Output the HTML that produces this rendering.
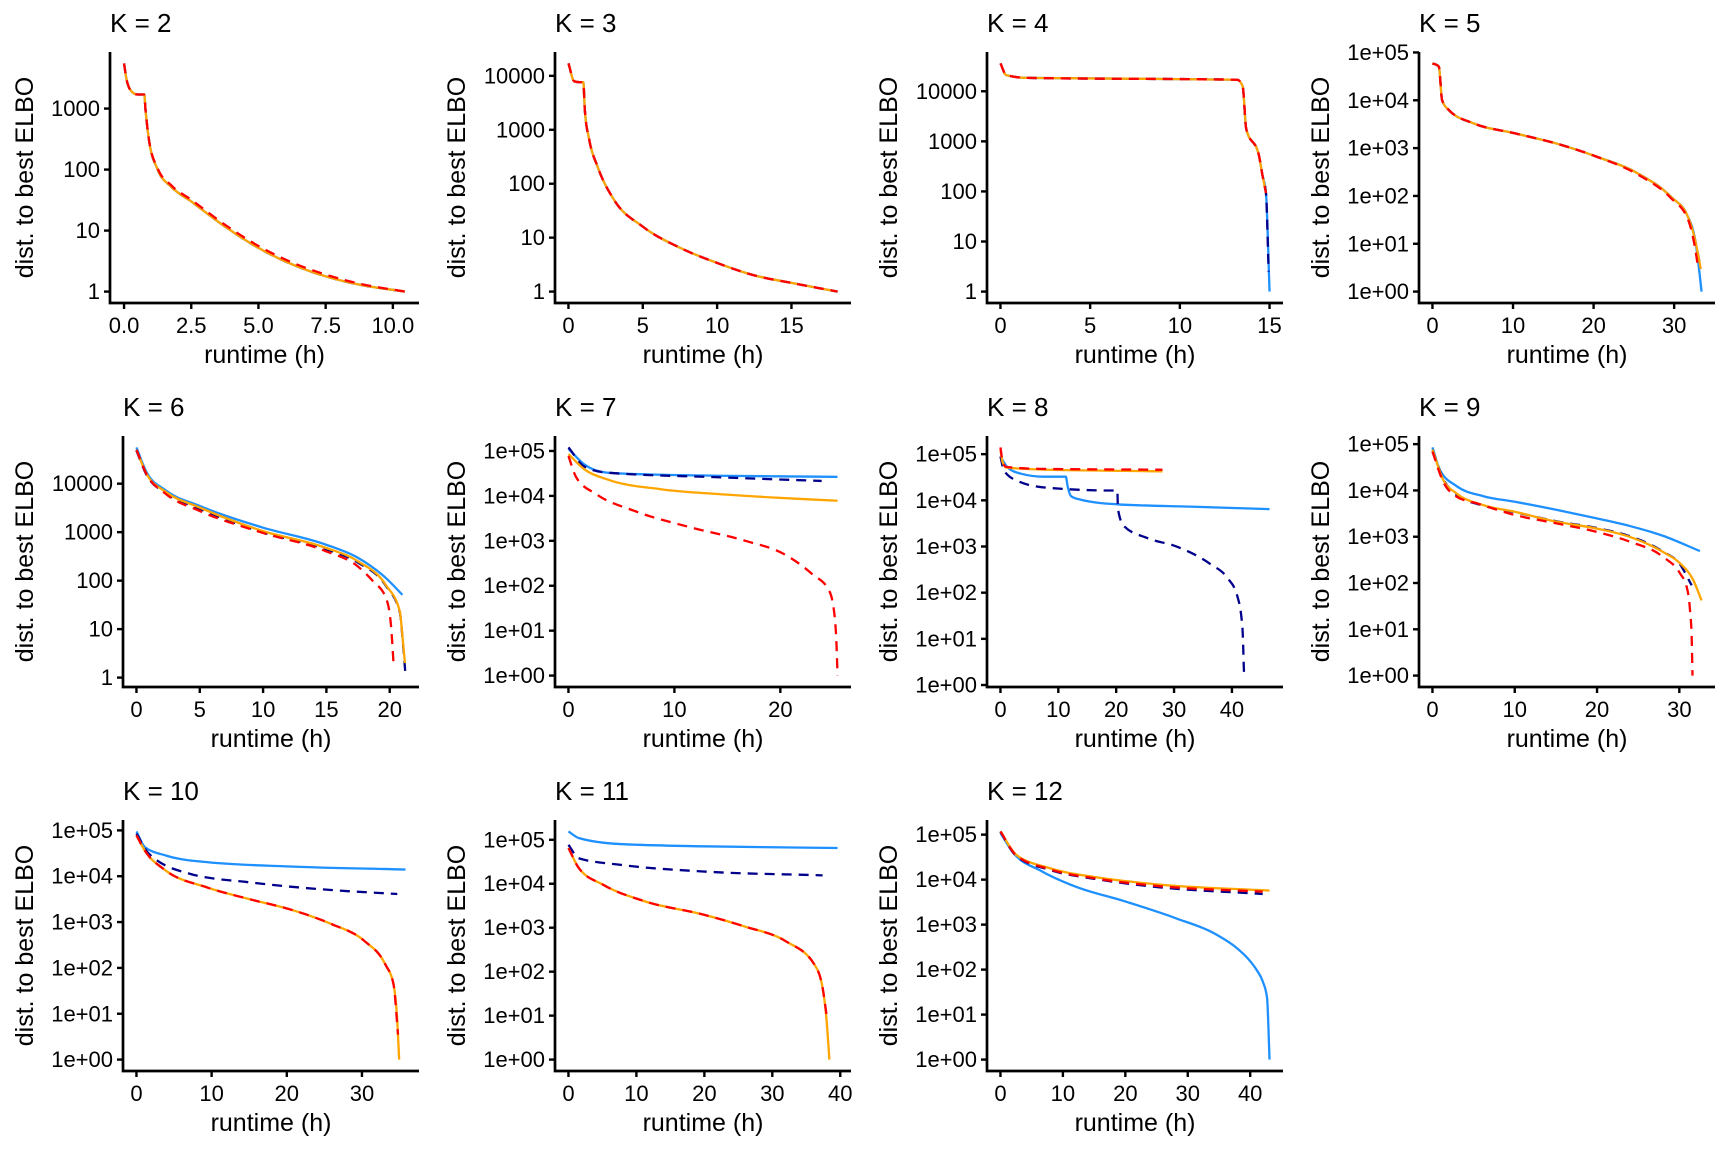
<!DOCTYPE html>
<html>
<head>
<meta charset="utf-8">
<style>
html,body{margin:0;padding:0;background:#fff;}
svg{display:block;}
text{font-family:"Liberation Sans",Arial,sans-serif;fill:#000;}
</style>
</head>
<body>
<svg id="fig" width="1728" height="1152" viewBox="0 0 1728 1152" xmlns="http://www.w3.org/2000/svg"></svg>
<script>
// ---------- data (runtime in hours, distance to best ELBO) ----------
const k2_t = [0,0.1,0.3,0.5,0.75,0.8,0.93,1.25,1.76,2.5,3.75,5,6.25,7.5,8.75,10.45];
const k2_blue = [5500,2900,1870,1700,1700,940,300,100,52,30,11.7,5.2,2.8,1.78,1.3,1.0];
const k2_navy = [5500,2900,1870,1700,1700,940,300,100,52,30,11.7,5.2,2.8,1.78,1.3,1.0];
const k2_orange = [5500,2900,1870,1700,1700,940,300,100,52,30,11.7,5.2,2.8,1.78,1.3,1.0];
const k2_red = [5500,2900,1870,1700,1700,940,300,105,55,32,12.5,5.6,3.0,1.9,1.35,1.0];

const k3_t = [0,0.39,0.84,1.0,1.1,1.4,1.95,3.07,5,7.5,10,12.5,15,18.1];
const k3_blue = [17000,7900,7600,7600,2350,650,210,50,16,6.5,3.4,2.0,1.45,1.0];
const k3_navy = [17000,7900,7600,7600,2350,650,210,50,16,6.5,3.4,2.0,1.45,1.0];
const k3_orange = [17000,7900,7600,7600,2350,650,210,50,16,6.5,3.4,2.0,1.45,1.0];
const k3_red = [17000,7900,7600,7600,2350,650,210,50,16,6.5,3.4,2.0,1.45,1.0];

const k4_t = [0,0.32,1.5,13.2,13.5,13.7,14.4,14.6,14.8];
const k4_v = [36000,21000,18500,17000,12600,1780,540,215,93];
const k4_navy_t = [0,0.32,1.5,13.2,13.5,13.7,14.4,14.6,14.8,14.95];
const k4_navy_v = [36000,21000,18500,17000,12600,1780,540,215,93,2.5];
const k4_blue_t = [0,0.32,1.5,13.2,13.5,13.7,14.4,14.6,14.8,15.0];
const k4_blue_v = [36000,21000,18500,17000,12600,1780,540,215,93,1];

const k5_t = [0,0.5,0.8,1.2,2.05,5.1,10.2,15.3,20.4,25.5,29.6,31.7,32.6,33.3];
const k5_orange = [59000,55000,50000,10000,6200,3300,2040,1260,660,295,96,37,12,3];
const k5_red_t = [0,0.5,0.8,1.2,2.05,5.1,10.2,15.3,20.4,25.5,29.6,31.7,32.5,33.0];
const k5_red = [59000,55000,50000,10000,6200,3300,2040,1260,660,280,90,33,10,3];
const k5_blue_t = [0,0.5,0.8,1.2,2.05,5.1,10.2,15.3,20.4,25.5,29.6,31.7,32.6,33.0,33.4];
const k5_blue = [59000,55000,50000,10000,6200,3300,2040,1260,660,295,96,37,12,4,1];

const k6_blue_t = [0,0.78,2.3,4.9,9.9,14.9,17.5,19.7,21.0];
const k6_blue = [56000,17600,7300,3550,1260,560,295,113,51];
const k6_orange_t = [0,0.78,2.3,4.9,9.9,14.9,17.5,19.7,20.8,21.0,21.2];
const k6_orange = [50000,16200,6800,3300,1070,480,250,81,23,7.4,2];
const k6_navy_t = [0,0.78,2.3,4.9,9.9,14.9,17.5,19.7,20.8,21.0,21.25];
const k6_navy = [48000,15500,6400,3100,1000,450,235,78,22,7,1.1];
const k6_red_t = [0,0.78,2.3,4.9,9.9,14.9,17.5,18.7,19.7,20.1,20.3];
const k6_red = [50000,16000,6200,2800,980,410,195,96,44,12,2];

const k7_blue_t = [0,1.5,3.6,8.8,25.4];
const k7_blue = [112000,50000,33000,29500,26500];
const k7_navy_t = [0,1.5,3.6,14.1,23.9];
const k7_navy = [120000,45000,33000,26000,21500];
const k7_orange_t = [0,1.5,3.6,8.8,14.1,19.3,25.4];
const k7_orange = [85000,39000,23500,14000,11000,9200,7800];
const k7_red_t = [0,0.73,2.6,6.2,11.5,16.7,20.4,23.0,24.6,25.1,25.3,25.4];
const k7_red = [77000,26000,11000,4650,2000,1000,500,182,78,23.5,5,1];

const k8_orange_t = [0,0.35,1,6.9,28];
const k8_orange = [126000,69000,51500,46500,42500];
const k8_red_t = [0,0.35,1,6.9,28];
const k8_red = [140000,72000,53000,48000,46000];
const k8_blue_t = [0,1.15,3.45,7.5,11.3,11.6,12.2,13.9,20.2,33.5,46.5];
const k8_blue = [89000,53000,38000,32500,32500,20500,12300,10300,8200,7250,6450];
const k8_navy_t = [0,0.6,2.9,8.1,19.6,20.2,20.3,21.3,25.4,30.5,36.3,39.2,40.9,41.8,42.1];
const k8_navy = [89000,44500,26500,18700,16300,16300,6600,2800,1520,990,415,210,87,18.4,1.6];

const k9_blue_t = [0,0.9,2.9,6.2,10,15.1,19.9,24,28,32.5];
const k9_blue = [85000,27700,12500,7500,5700,3800,2500,1700,1050,490];
const k9_orange_t = [0,1.3,2.9,6.2,10,15.1,19.9,24,28,30.1,31.7,32.7];
const k9_orange = [76000,17000,8700,4800,3460,2100,1510,990,470,265,115,42];
const k9_navy_t = [0,1.3,2.9,6.2,10,15.1,19.9,24,28,30.1,31.5];
const k9_navy = [76000,18000,8000,4700,3400,2150,1550,1020,480,250,89];
const k9_red_t = [0,1.3,2.9,5.5,10,15.1,19.9,24,28,30.1,30.9,31.3,31.5,31.6];
const k9_red = [69000,15500,7400,5200,2950,1940,1280,780,370,160,82,25.6,6.8,1];

const k10_blue_t = [0,1.1,3.9,9.4,20.4,35.8];
const k10_blue = [95000,43500,28300,20300,16300,14000];
const k10_navy_t = [0,1.65,7.2,14.9,25.9,34.7];
const k10_navy = [85000,31000,11200,7400,5000,4100];
const k10_orange_t = [0,1.1,3.9,9.4,14.9,20.4,25.9,30.3,33.1,34.2,34.7,34.95];
const k10_orange = [78000,36500,13300,5700,3200,1900,910,390,120,44,6.9,1];
const k10_red_t = [0,1.1,3.9,9.4,14.9,20.4,25.9,30.3,33.1,34.2,34.8];
const k10_red = [78000,36500,13300,5700,3200,1900,910,390,120,44,3.5];

const k11_blue_t = [0,1.5,7.6,19.8,39.6];
const k11_blue = [155000,110000,80000,71000,65000];
const k11_navy_t = [0,1.5,7.6,19.8,37.4];
const k11_navy = [77000,38000,27000,19000,15500];
const k11_orange_t = [0,1.5,5.1,11.2,19.8,25.9,32,36.2,37.4,38,38.4];
const k11_orange = [65000,23000,9500,4000,2000,1070,490,145,43,7.4,1];
const k11_red_t = [0,1.5,5.1,11.2,19.8,25.9,32,36.2,37.4,38];
const k11_red = [65000,23000,9500,4000,2000,1070,490,145,43,10];

const k12_orange_t = [0,2.5,7.9,15.9,25.3,43.1];
const k12_orange = [118000,36000,18000,11000,7800,5700];
const k12_red_t = [0,2.5,7.9,15.9,25.3,42];
const k12_red = [118000,35000,17000,10300,7200,5400];
const k12_navy_t = [0,2.5,7.9,15.9,25.3,42];
const k12_navy = [115000,34000,16500,10000,6800,4800];
const k12_blue_t = [0,1.9,6.6,11.9,19.9,28,34.6,37.5,40,41,42,42.7,43.1];
const k12_blue = [109000,42000,15400,7100,3300,1400,600,330,154,100,55,23.6,1];

// tick labels
const ticks_y_plain = [1,10,100,1000,10000];
const labels_y_plain = ["1","10","100","1000","10000"];
const ticks_y_sci = [1,10,100,1000,10000,100000];
const labels_y_sci = ["1e+00","1e+01","1e+02","1e+03","1e+04","1e+05"];
const ticks_x_k2 = [0,2.5,5,7.5,10];
const labels_x_k2 = ["0.0","2.5","5.0","7.5","10.0"];
const ticks_x_5 = [0,5,10,15];
const ticks_x_6 = [0,5,10,15,20];
const ticks_x_20 = [0,10,20];
const ticks_x_30 = [0,10,20,30];
const ticks_x_40 = [0,10,20,30,40];

// ---------- panel definitions ----------
const panels = [
  {k:2, series:[[k2_t,k2_blue],[k2_t,k2_navy],[k2_t,k2_orange],[k2_t,k2_red]], yt:[1,10,100,1000], yl:["1","10","100","1000"], xt:ticks_x_k2, xl:labels_x_k2},
  {k:3, series:[[k3_t,k3_blue],[k3_t,k3_navy],[k3_t,k3_orange],[k3_t,k3_red]], yt:ticks_y_plain, yl:labels_y_plain, xt:ticks_x_5},
  {k:4, series:[[k4_blue_t,k4_blue_v],[k4_navy_t,k4_navy_v],[k4_t,k4_v],[k4_t,k4_v]], yt:ticks_y_plain, yl:labels_y_plain, xt:ticks_x_5},
  {k:5, series:[[k5_blue_t,k5_blue],[k5_t,k5_orange],[k5_t,k5_orange],[k5_red_t,k5_red]], yt:ticks_y_sci, yl:labels_y_sci, xt:ticks_x_30},
  {k:6, series:[[k6_blue_t,k6_blue],[k6_navy_t,k6_navy],[k6_orange_t,k6_orange],[k6_red_t,k6_red]], yt:ticks_y_plain, yl:labels_y_plain, xt:ticks_x_6},
  {k:7, series:[[k7_blue_t,k7_blue],[k7_navy_t,k7_navy],[k7_orange_t,k7_orange],[k7_red_t,k7_red]], yt:ticks_y_sci, yl:labels_y_sci, xt:ticks_x_20},
  {k:8, series:[[k8_blue_t,k8_blue],[k8_navy_t,k8_navy],[k8_orange_t,k8_orange],[k8_red_t,k8_red]], yt:ticks_y_sci, yl:labels_y_sci, xt:ticks_x_40},
  {k:9, series:[[k9_blue_t,k9_blue],[k9_navy_t,k9_navy],[k9_orange_t,k9_orange],[k9_red_t,k9_red]], yt:ticks_y_sci, yl:labels_y_sci, xt:ticks_x_30},
  {k:10, series:[[k10_blue_t,k10_blue],[k10_navy_t,k10_navy],[k10_orange_t,k10_orange],[k10_red_t,k10_red]], yt:ticks_y_sci, yl:labels_y_sci, xt:ticks_x_30},
  {k:11, series:[[k11_blue_t,k11_blue],[k11_navy_t,k11_navy],[k11_orange_t,k11_orange],[k11_red_t,k11_red]], yt:ticks_y_sci, yl:labels_y_sci, xt:ticks_x_40},
  {k:12, series:[[k12_blue_t,k12_blue],[k12_navy_t,k12_navy],[k12_orange_t,k12_orange],[k12_red_t,k12_red]], yt:ticks_y_sci, yl:labels_y_sci, xt:ticks_x_40}
];
const seriesNames = ["blue","navy","orange","red"];
const seriesColors = ["#1E90FF","#00008B","#FFA500","#FF0000"];
const seriesDash = [null,"10,7",null,"10,7"];

const NS = "http://www.w3.org/2000/svg";
const svg = document.getElementById("fig");
function mk(tag, attrs, parent){
  const e = document.createElementNS(NS, tag);
  for (const a in attrs) e.setAttribute(a, attrs[a]);
  parent.appendChild(e);
  return e;
}
function monoPath(pts){
  const n = pts.length;
  if (n < 2) return "";
  const d = [], h = [];
  for (let i=0;i<n-1;i++){ h.push(pts[i+1][0]-pts[i][0]); d.push((pts[i+1][1]-pts[i][1])/h[i]); }
  const m = new Array(n);
  m[0] = d[0]; m[n-1] = d[n-2];
  for (let i=1;i<n-1;i++){
    if (d[i-1]*d[i] <= 0) m[i] = 0;
    else {
      const p = (d[i-1]*h[i] + d[i]*h[i-1])/(h[i-1]+h[i]);
      m[i] = (Math.sign(d[i-1])+Math.sign(d[i])) * Math.min(Math.abs(d[i-1]), Math.abs(d[i]), 0.5*Math.abs(p));
    }
  }
  let s = "M" + pts[0][0].toFixed(2) + "," + pts[0][1].toFixed(2);
  for (let i=0;i<n-1;i++){
    const x0=pts[i][0], y0=pts[i][1], x1=pts[i+1][0], y1=pts[i+1][1], hh=h[i]/3;
    s += "C" + (x0+hh).toFixed(2)+","+(y0+m[i]*hh).toFixed(2)+" "+(x1-hh).toFixed(2)+","+(y1-m[i+1]*hh).toFixed(2)+" "+x1.toFixed(2)+","+y1.toFixed(2);
  }
  return s;
}

panels.forEach((p, idx) => {
  const col = idx % 4, row = Math.floor(idx / 4);
  const ox = col*432, oy = row*384;
  const L = ox + (p.k === 2 ? 110 : 123), R = ox + 419, T = oy + 52, B = oy + 303;
  const g = mk("g", {}, svg);
  
  

  let tmax = 0, lmin = Infinity, lmax = -Infinity;
  p.series.forEach(s => {
    s[0].forEach(t => { if (t > tmax) tmax = t; });
    s[1].forEach(v => { const l = Math.log10(v); if (l<lmin) lmin=l; if (l>lmax) lmax=l; });
  });
  const x0 = -0.05*tmax, x1 = tmax*1.05;
  const lr = lmax - lmin, y0 = lmin - 0.05*lr, y1 = lmax + 0.05*lr;
  const xs = t => L + (t - x0)/(x1 - x0)*(R - L);
  const ys = v => B - (Math.log10(v) - y0)/(y1 - y0)*(B - T);

  const title = mk("text", {x:L, y:oy+32, "font-size":26}, g);
  title.textContent = "K = " + p.k;
  
  

  p.series.forEach((s, si) => {
    const pts = s[0].map((t, i) => [xs(t), ys(s[1][i])]);
    const attrs = {d: monoPath(pts), fill:"none", stroke:seriesColors[si], "stroke-width":2.3, "stroke-linejoin":"round"};
    if (seriesDash[si]) attrs["stroke-dasharray"] = seriesDash[si];
    const path = mk("path", attrs, g);
    
    
  });

  const ax = mk("g", {}, g);
  
  
  mk("path", {d:`M${L},${T}V${B}H${R}`, fill:"none", stroke:"#000", "stroke-width":2.7}, ax);

  p.yt.forEach((v, i) => {
    const y = ys(v);
    mk("line", {x1:L-6, x2:L, y1:y, y2:y, stroke:"#000", "stroke-width":2.4}, ax);
    const tl = mk("text", {x:L-10, y:y+7.5, "font-size":22, "text-anchor":"end"}, ax);
    tl.textContent = p.yl[i];
    
    
  });
  p.xt.forEach((v, i) => {
    const x = xs(v);
    mk("line", {x1:x, x2:x, y1:B, y2:B+6, stroke:"#000", "stroke-width":2.4}, ax);
    const tl = mk("text", {x:x, y:oy+333, "font-size":22, "text-anchor":"middle"}, ax);
    tl.textContent = p.xl ? p.xl[i] : String(v);
    
    
  });

  const xt = mk("text", {x:(L+R)/2, y:oy+363, "font-size":25, "text-anchor":"middle"}, g);
  xt.textContent = "runtime (h)";
  
  

  const cy = (T+B)/2;
  const yt = mk("text", {x:0, y:0, "font-size":25, "text-anchor":"middle", transform:`translate(${ox+33},${cy}) rotate(-90)`}, g);
  yt.textContent = "dist. to best ELBO";
  
  
});
</script>
</body>
</html>
